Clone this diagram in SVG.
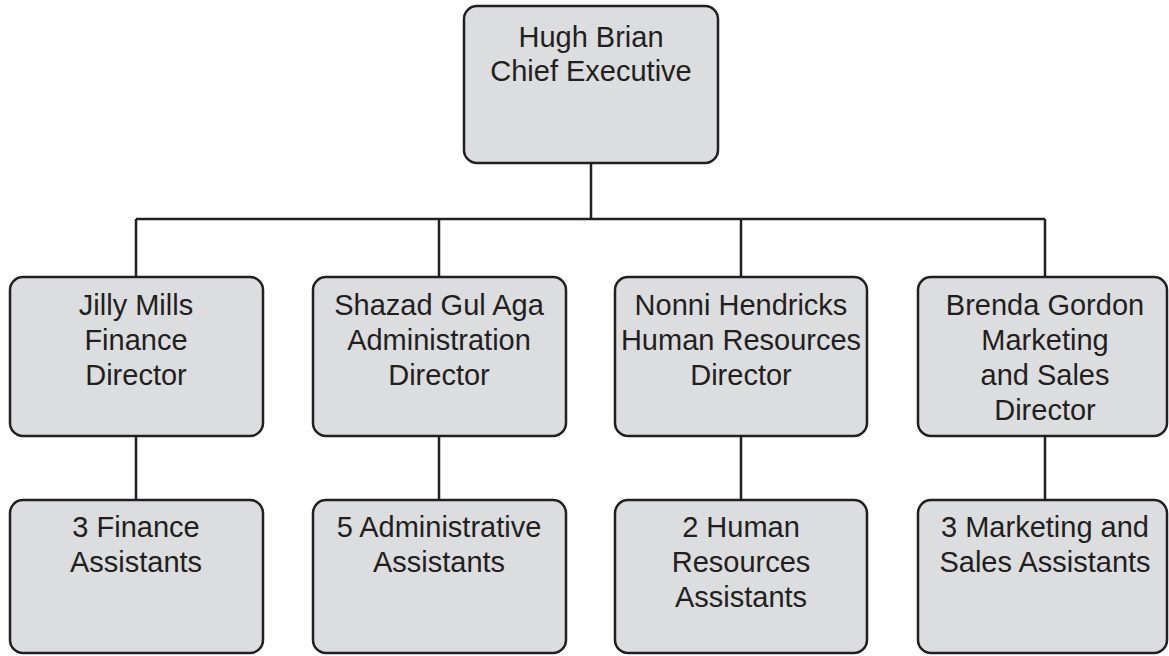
<svg xmlns="http://www.w3.org/2000/svg" width="1169" height="656" viewBox="0 0 1169 656">
<style>
.box{fill:#dcdddf;stroke:#231f20;stroke-width:2.5}
.ln{stroke:#231f20;stroke-width:2.5;fill:none}
text{font-family:"Liberation Sans",Arial,sans-serif;font-size:29px;fill:#231f20;text-anchor:middle}
</style>
<rect width="1169" height="656" fill="#ffffff"/>
<g id="connectors">
<path class="ln" d="M591 163V219M136 219H1045M136 219V277M439 219V277M741 219V277M1045 219V277M136 436V500M439 436V500M741 436V500M1045 436V500"/>
</g>
<g id="ceo"><rect class="box" x="464" y="6" width="254" height="157" rx="13"/>
<text x="591" y="47">Hugh Brian</text><text x="591" y="81">Chief Executive</text></g>
<g id="finance-director"><rect class="box" x="10" y="277" width="253" height="159" rx="13"/>
<text x="136" y="315">Jilly Mills</text><text x="136" y="350">Finance</text><text x="136" y="385">Director</text></g>
<g id="admin-director"><rect class="box" x="313" y="277" width="253" height="159" rx="13"/>
<text x="439" y="315">Shazad Gul Aga</text><text x="439" y="350">Administration</text><text x="439" y="385">Director</text></g>
<g id="hr-director"><rect class="box" x="615" y="277" width="252" height="159" rx="13"/>
<text x="741" y="315">Nonni Hendricks</text><text x="741" y="350">Human Resources</text><text x="741" y="385">Director</text></g>
<g id="marketing-director"><rect class="box" x="918" y="277" width="249" height="159" rx="13"/>
<text x="1045" y="315">Brenda Gordon</text><text x="1045" y="350">Marketing</text><text x="1045" y="385">and Sales</text><text x="1045" y="420">Director</text></g>
<g id="finance-assistants"><rect class="box" x="10" y="500" width="253" height="153" rx="13"/>
<text x="136" y="537">3 Finance</text><text x="136" y="572">Assistants</text></g>
<g id="admin-assistants"><rect class="box" x="313" y="500" width="253" height="153" rx="13"/>
<text x="439" y="537">5 Administrative</text><text x="439" y="572">Assistants</text></g>
<g id="hr-assistants"><rect class="box" x="615" y="500" width="252" height="153" rx="13"/>
<text x="741" y="537">2 Human</text><text x="741" y="572">Resources</text><text x="741" y="607">Assistants</text></g>
<g id="marketing-assistants"><rect class="box" x="918" y="500" width="249" height="153" rx="13"/>
<text x="1045" y="537">3 Marketing and</text><text x="1045" y="572">Sales Assistants</text></g>
</svg>
